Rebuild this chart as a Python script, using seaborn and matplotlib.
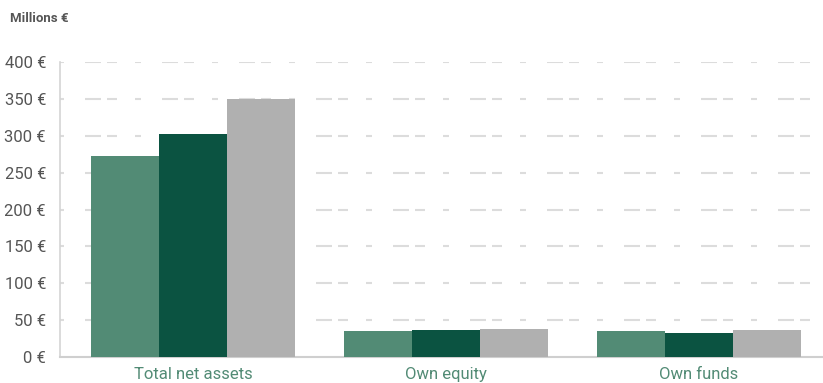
import matplotlib
matplotlib.use("Agg")
import matplotlib.pyplot as plt
import seaborn as sns
import pandas as pd

# Chart data (millions of euros)
categories = ["Total net assets", "Own equity", "Own funds"]
periods = ["Period 1", "Period 2", "Period 3"]
values_p1 = [273, 35, 35]
values_p2 = [303, 37, 33]
values_p3 = [350, 38, 37]
y_ticks = [0, 50, 100, 150, 200, 250, 300, 350, 400]
y_tick_labels = [f"{v} €" for v in y_ticks]

palette = ["#528b75", "#0b5341", "#b0b0b0"]

rows = []
for period, vals in zip(periods, [values_p1, values_p2, values_p3]):
    for cat, v in zip(categories, vals):
        rows.append({"category": cat, "period": period, "value": v})
df = pd.DataFrame(rows)

sns.set_theme(style="white")
plt.rcParams["font.family"] = ["Roboto", "DejaVu Sans"]
plt.rcParams["lines.scale_dashes"] = False

fig = plt.figure(figsize=(8.23, 3.83), dpi=100)
ax = fig.add_axes([60 / 823, 1 - 357 / 383, 762 / 823, (357 - 62) / 383])

sns.barplot(data=df, x="category", y="value", hue="period", order=categories,
            hue_order=periods, palette=palette, width=0.806, saturation=1,
            edgecolor="none", linewidth=0, legend=False, ax=ax, zorder=3)

ax.set_ylim(0, 400)
ax.set_xlim(-0.526, 2.486)
ax.set_yticks(y_ticks)
ax.set_yticklabels(y_tick_labels)
ax.set_xlabel("")
ax.set_ylabel("")

# dashed horizontal grid: repeating short / long / medium dash pattern (points)
pt = 0.72
dash_pattern = tuple(d * pt for d in (6, 21, 16, 6, 10, 18))
for v in y_ticks[1:]:
    ax.axhline(v, color="#dcdcdc", lw=1.5, zorder=1, dash_capstyle="butt",
               linestyle=(2 * pt, dash_pattern))

for side in ("top", "right"):
    ax.spines[side].set_visible(False)
ax.spines["left"].set_color("#d4d4d4")
ax.spines["left"].set_linewidth(1.2)
ax.spines["bottom"].set_color("#cfcfcf")
ax.spines["bottom"].set_linewidth(1.5)

ax.tick_params(axis="y", length=0, pad=10, labelsize=12, labelcolor="#555555")
ax.tick_params(axis="x", length=0, pad=7, labelsize=12, labelcolor="#528b75")

fig.text(10 / 823, 1 - 18 / 383, "Millions €", fontsize=9.5, fontweight="bold",
         color="#555555", va="center", ha="left")

fig.savefig("out.png", dpi=100)
